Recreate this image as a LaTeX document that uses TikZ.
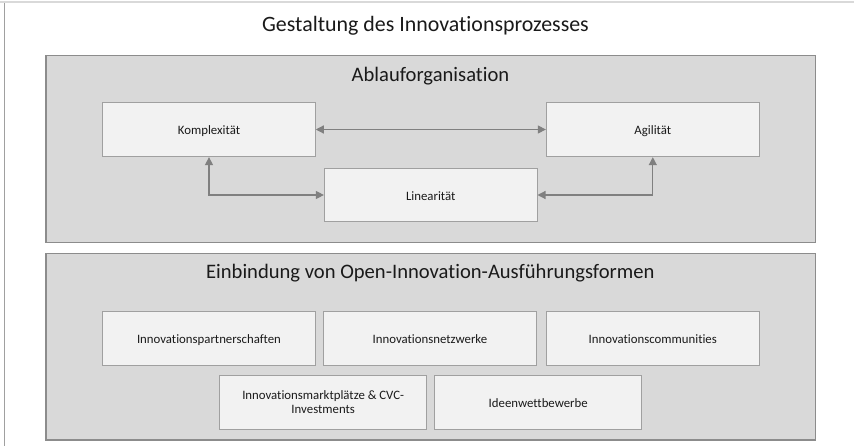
\documentclass[tikz,border=0pt]{standalone}
\usepackage{fontspec}
\setmainfont{Carlito}[Ligatures={NoCommon}]
\usetikzlibrary{arrows.meta}
\definecolor{panelfill}{HTML}{D9D9D9}
\definecolor{panelline}{HTML}{8C8C8C}
\definecolor{boxfill}{HTML}{F2F2F2}
\definecolor{boxline}{HTML}{A0A0A0}
\definecolor{arrowcol}{HTML}{808080}
\definecolor{txt}{HTML}{1A1A1A}
\begin{document}
\begin{tikzpicture}[x=1pt,y=-1pt,
  panel/.style={draw=panelline,fill=panelfill,line width=1.2pt,rectangle,inner sep=0pt,minimum width=769.7pt},
  itembox/.style={draw=boxline,fill=boxfill,line width=0.9pt,rectangle,inner sep=2pt,align=center,text=txt,font=\fontsize{12.8}{14.5}\selectfont},
  oneline/.style={text height=13.5pt,text depth=2.8pt},
  bigtitle/.style={text=txt,font=\fontsize{21.9}{24}\selectfont,inner sep=0pt},
  paneltitle/.style={text=txt,font=\fontsize{20.6}{23}\selectfont,inner sep=0pt},
  link/.style={draw=arrowcol,line width=1.2pt,{Triangle[length=8pt,width=8pt]}-{Triangle[length=8pt,width=8pt]}}
]
\useasboundingbox (0,0) rectangle (854,446);
\fill[white] (0,0) rectangle (854,446);
% outer frame fragments
\draw[draw=panelfill,line width=2pt] (0,2) -- (854,2);
\draw[draw=boxline,line width=1pt] (4,3) -- (4,446);
\node[bigtitle] (title) at (425.5,26) {Gestaltung des Innovationsprozesses};
% panel 1
\node[panel,minimum height=187pt] (p1) at (430.85,149.2) {};
\node[paneltitle] (t1) at (430.5,76) {Ablauforganisation};
\node[itembox,oneline,minimum width=212.6pt,minimum height=54.4pt] (K) at (209,129.5) {Komplexität};
\node[itembox,oneline,minimum width=213pt,minimum height=54.4pt] (A) at (652.8,129.5) {Agilität};
\node[itembox,oneline,minimum width=212.7pt,minimum height=53.4pt] (L) at (430.7,195) {Linearität};
\draw[link] (K.east) -- (A.west);
\draw[link] (K.south) |- (L.west);
\draw[link] (L.east) -| (A.south);
% panel 2
\node[panel,minimum height=186.7pt] (p2) at (430.85,346.65) {};
\node[paneltitle] (t2) at (430.3,273.3) {Einbindung von Open-Innovation-Ausführungsformen};
\node[itembox,oneline,minimum width=212.6pt,minimum height=54pt] (P) at (209,338.3) {Innovationspartnerschaften};
\node[itembox,oneline,minimum width=213.4pt,minimum height=54pt] (N) at (430,338.3) {Innovationsnetzwerke};
\node[itembox,oneline,minimum width=213pt,minimum height=54pt] (C) at (652.8,338.3) {Innovationscommunities};
\node[itembox,minimum width=207pt,minimum height=54pt] (M) at (323.2,402.3) {Innovationsmarktplätze \& CVC-\\Investments};
\node[itembox,oneline,minimum width=207pt,minimum height=54pt] (I) at (538.2,402.3) {Ideenwettbewerbe};
\end{tikzpicture}
\end{document}
